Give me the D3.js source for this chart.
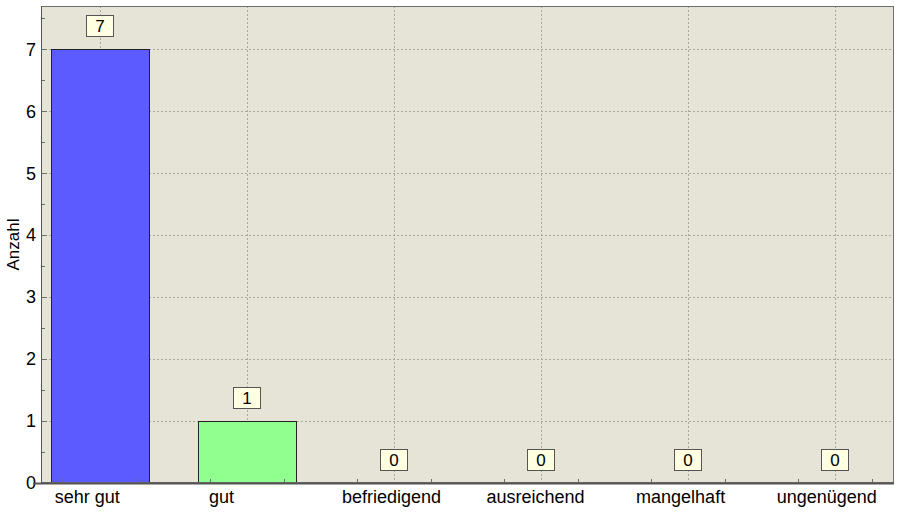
<!DOCTYPE html>
<html>
<head>
<meta charset="utf-8">
<script src="https://cdnjs.cloudflare.com/ajax/libs/d3/7.8.5/d3.min.js"></script>
<style>
  body { margin: 0; background: #fff; }
  text { font-family: Arial, "Liberation Sans", sans-serif; }
</style>
</head>
<body>
<div id="chart"></div>
<script>
var categories = ["sehr gut", "gut", "befriedigend", "ausreichend", "mangelhaft", "ungenügend"]
var counts = [7, 1, 0, 0, 0, 0]
var barColors = ["#5b5bff", "#90ff90", "#5b5bff", "#5b5bff", "#5b5bff", "#5b5bff"]
var yTicks = [0, 1, 2, 3, 4, 5, 6, 7]
// category labels sit a little left of their tick in the original
var labelShift = [-13, -26, -3, -6, -8, -9]

var width = 900, height = 514
var margin = {top: 6, right: 6, bottom: 31, left: 41}
var w = width - margin.left - margin.right,
    h = height - margin.top - margin.bottom

var svg = d3.select("#chart").append("svg")
    .attr("width", width)
    .attr("height", height)

var g = svg.append("g")
    .attr("transform", "translate(" + margin.left + "," + margin.top + ")")

var x = d3.scalePoint()
    .domain(categories)
    .range([0, w])
    .padding(0.4)

var y = d3.scaleLinear()
    .domain([0, 7.7])
    .range([h, 0])

var step = x.step()
var barW = step * 0.667

// background
g.append("rect")
    .attr("width", w)
    .attr("height", h)
    .attr("fill", "#e5e4d7")

// grid lines
g.selectAll(".hgrid")
    .data(yTicks.slice(1))
    .enter().append("line")
    .attr("x1", 0).attr("x2", w)
    .attr("y1", function (d) { return Math.round(y(d)) + 0.5 })
    .attr("y2", function (d) { return Math.round(y(d)) + 0.5 })
    .attr("stroke", "#a8a89c")
    .attr("stroke-dasharray", "2,2")

g.selectAll(".vgrid")
    .data(categories)
    .enter().append("line")
    .attr("y1", 0).attr("y2", h)
    .attr("x1", function (d) { return Math.round(x(d)) + 0.5 })
    .attr("x2", function (d) { return Math.round(x(d)) + 0.5 })
    .attr("stroke", "#a8a89c")
    .attr("stroke-dasharray", "2,2")

// bars
g.selectAll(".bar")
    .data(counts)
    .enter().append("rect")
    .attr("x", function (d, i) { return Math.round(x(categories[i]) - barW / 2) + 0.5 })
    .attr("y", function (d) { return Math.round(y(d)) + 0.5 })
    .attr("width", Math.round(barW))
    .attr("height", function (d) { return Math.round(h - y(d)) })
    .attr("fill", function (d, i) { return barColors[i] })
    .attr("stroke", "#222")
    .attr("stroke-width", 1)
    .style("display", function (d) { return d > 0 ? null : "none" })

// frame
g.append("rect")
    .attr("x", 0.5).attr("y", 0.5)
    .attr("width", w - 1).attr("height", h - 1)
    .attr("fill", "none")
    .attr("stroke", "#6e6e6e")

// axes
var yAxis = g.append("g")
    .call(d3.axisLeft(y).tickValues(yTicks).tickSize(0).tickPadding(5))
yAxis.select(".domain").remove()
yAxis.selectAll("text").attr("font-size", 18).attr("fill", "#000")

// small ticks pointing inward
var yMinor = d3.range(0, 7.6, 0.5)
g.selectAll(".ytick")
    .data(yMinor)
    .enter().append("line")
    .attr("x1", 0)
    .attr("x2", function (d) { return d % 1 === 0 ? 6 : 4 })
    .attr("y1", function (d) { return Math.round(y(d)) + 0.5 })
    .attr("y2", function (d) { return Math.round(y(d)) + 0.5 })
    .attr("stroke", "#6e6e6e")

var xMinor = []
categories.forEach(function (c) {
    [-0.25, 0.25].forEach(function (o) { xMinor.push(x(c) + o * step) })
})
g.selectAll(".xtick")
    .data(xMinor)
    .enter().append("line")
    .attr("x1", function (d) { return Math.round(d) + 0.5 })
    .attr("x2", function (d) { return Math.round(d) + 0.5 })
    .attr("y1", h).attr("y2", h - 4)
    .attr("stroke", "#6e6e6e")

var xAxis = g.append("g")
    .attr("transform", "translate(0," + h + ")")
    .call(d3.axisBottom(x).tickSize(0).tickPadding(0))
xAxis.select(".domain").remove()
xAxis.selectAll("text")
    .attr("font-size", 18)
    .attr("fill", "#000")
    .attr("dy", null)
    .attr("y", 20)
    .attr("x", function (d, i) { return labelShift[i] })

// left and bottom axis lines
g.append("line")
    .attr("x1", 0.5).attr("x2", 0.5).attr("y1", 0).attr("y2", h)
    .attr("stroke", "#555")
g.append("line")
    .attr("x1", -8).attr("x2", w).attr("y1", h + 0.5).attr("y2", h + 0.5)
    .attr("stroke", "#555").attr("stroke-width", 2)

// value labels
var labels = g.selectAll(".lbl")
    .data(counts)
    .enter().append("g")
    .attr("transform", function (d, i) {
        return "translate(" + Math.round(x(categories[i])) + "," + Math.round(y(d) - 12) + ")"
    })
labels.append("rect")
    .attr("x", -13.5).attr("y", -21.5)
    .attr("width", 27).attr("height", 21)
    .attr("fill", "#ffffe1")
    .attr("stroke", "#555")
labels.append("text")
    .attr("y", -5)
    .attr("text-anchor", "middle")
    .attr("font-size", 17)
    .text(function (d) { return d })

// y title
svg.append("text")
    .attr("transform", "translate(19," + (margin.top + h / 2) + ") rotate(-90)")
    .attr("text-anchor", "middle")
    .attr("font-size", 17)
    .text("Anzahl")
</script>
</body>
</html>
